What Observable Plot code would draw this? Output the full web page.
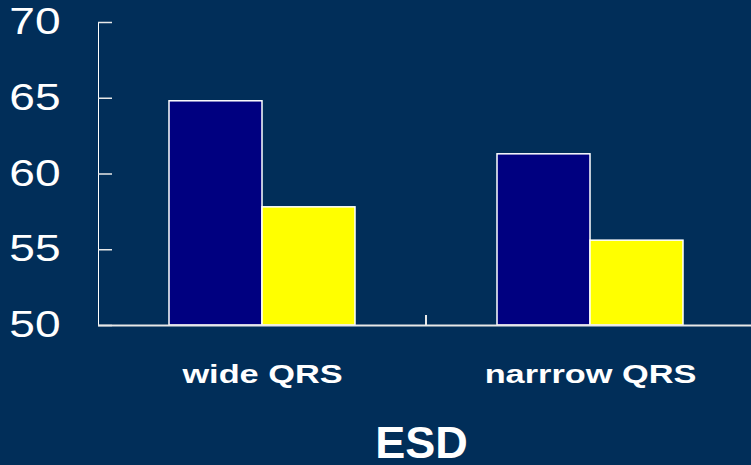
<!DOCTYPE html>
<html>
<head>
<meta charset="utf-8">
<script src="https://cdn.jsdelivr.net/npm/d3@7"></script>
<script src="https://cdn.jsdelivr.net/npm/@observablehq/plot@0.6"></script>
<style>
  html, body { margin: 0; padding: 0; background: #012e59; }
  #chart {
    width: 751px; height: 465px; overflow: hidden;
    font-family: "Liberation Sans", Arial, sans-serif; color: #fff;
  }
  #chart svg { display: block; }
  #title {
    font-weight: bold; font-size: 45px; line-height: 34px;
    text-align: center; padding-left: 92px; margin-top: 21px;
  }
</style>
</head>
<body>
<div id="chart"></div>
<script>
// Categories and series
const groups = ["wide QRS", "narrrow QRS"];
const series = ["group 1", "group 2"];
const firstValues = [64.8, 61.3];
const secondValues = [57.8, 55.6];
const yTicks = [50, 55, 60, 65, 70];
const seriesColors = ["#000080", "#ffff00"];

const rows = groups.flatMap((g, i) => [
  {group: g, series: series[0], value: firstValues[i]},
  {group: g, series: series[1], value: secondValues[i]}
]);

const chart = Plot.plot({
  width: 751,
  height: 405,
  marginLeft: 98,
  marginRight: -3,
  marginTop: 22,
  marginBottom: 80,
  style: {background: "transparent", color: "#fff", fontFamily: "'Liberation Sans', Arial, sans-serif", fontSize: "36px", overflow: "visible"},
  fx: {domain: groups, padding: 0, axis: null, label: null},
  x: {domain: series, paddingInner: 0, paddingOuter: 0.746, axis: null},
  y: {domain: [yTicks[0], yTicks[yTicks.length - 1]], ticks: yTicks, tickSize: -14, tickPadding: 52, line: true, label: null, tickFormat: d => String(d)},
  color: {domain: series, range: seriesColors},
  marks: [
    Plot.barY(rows, {fx: "group", x: "series", y1: yTicks[0], y2: "value", fill: "series", stroke: "#fff", strokeWidth: 1.5}),
    Plot.ruleY([yTicks[0]], {stroke: "#e8e8e8", strokeWidth: 2}),
    Plot.text(groups, {fx: d => d, text: d => d, frameAnchor: "bottom", lineAnchor: "top", dy: 39, fill: "#fff", fontSize: 26, fontWeight: "bold"})
  ]
});

const host = document.getElementById("chart");
host.appendChild(chart);

// Horizontal widening of the text glyphs
function widen(selection, k) {
  selection.each(function () {
    const w = this.getComputedTextLength();
    this.setAttribute("textLength", w * k);
    this.setAttribute("lengthAdjust", "spacingAndGlyphs");
  });
}
const svg = d3.select(chart);
const yAxisText = svg.selectAll('g[aria-label="y-axis tick label"] text');
yAxisText.attr("font-size", 36).attr("fill", "#fff");
widen(yAxisText, 1.28);
widen(svg.selectAll('g[aria-label="text"] text'), 1.32);
svg.selectAll('g[aria-label="y-axis tick"], g[aria-label="y-axis tick"] path').attr("stroke", "#e8e8e8").attr("stroke-width", 1.5);

// Short divider tick on the baseline between the two categories
const fx = chart.scale("fx");
const y = chart.scale("y");
const xb = fx.apply(groups[1]);
const y0 = y.apply(yTicks[0]);
svg.append("line")
  .attr("x1", xb).attr("x2", xb)
  .attr("y1", y0).attr("y2", y0 - 10)
  .attr("stroke", "#e8e8e8").attr("stroke-width", 2);

const title = document.createElement("div");
title.id = "title";
title.textContent = "ESD";
host.appendChild(title);
</script>
</body>
</html>
